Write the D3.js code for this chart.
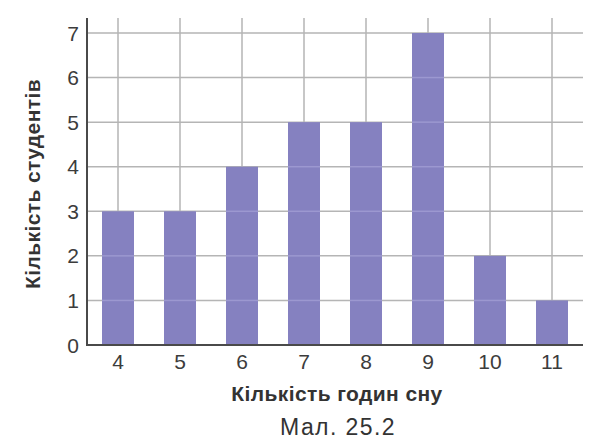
<!DOCTYPE html>
<html>
<head>
<meta charset="utf-8">
<script src="https://cdn.jsdelivr.net/npm/d3@7"></script>
<style>
  body { margin: 0; background: #fff; }
  text { font-family: 'Liberation Sans', Arial, sans-serif; fill: #333; }
</style>
</head>
<body>
<div id="chart"></div>
<script>
// години сну та кількість студентів
var hours = ['4', '5', '6', '7', '8', '9', '10', '11']
var students = [3, 3, 4, 5, 5, 7, 2, 1]
var yTicks = [0, 1, 2, 3, 4, 5, 6, 7]

var W = 610, H = 446
var padL = 87, padR = 583, padT = 18, padB = 345

var svg = d3.select('#chart').append('svg')
  .attr('width', W)
  .attr('height', H)

var x = d3.scaleBand()
  .domain(hours)
  .range([padL, padR])
  .paddingInner(0.484)
  .paddingOuter(0.242)

var y = d3.scaleLinear()
  .domain([0, 7])
  .range([padB, 33])

// сітка
var grid = svg.append('g').attr('class', 'grid')
grid.selectAll('line.h')
  .data(yTicks.filter(d => d > 0))
  .enter().append('line')
  .attr('class', 'h')
  .attr('x1', padL).attr('x2', padR)
  .attr('y1', d => y(d)).attr('y2', d => y(d))
  .attr('stroke', '#b5b5b5').attr('stroke-width', 1.5)
grid.selectAll('line.v')
  .data(hours)
  .enter().append('line')
  .attr('class', 'v')
  .attr('x1', d => x(d) + x.bandwidth() / 2).attr('x2', d => x(d) + x.bandwidth() / 2)
  .attr('y1', padT).attr('y2', padB)
  .attr('stroke', '#b5b5b5').attr('stroke-width', 1.5)

// стовпці
var bars = svg.append('g').selectAll('g')
  .data(hours.map((h, i) => ({ h: h, v: students[i] })))
  .enter().append('g')
bars.append('rect')
  .attr('x', d => x(d.h))
  .attr('y', d => y(d.v))
  .attr('width', x.bandwidth())
  .attr('height', d => y(0) - y(d.v))
  .attr('fill', '#8581c0')
// лінії сітки крізь стовпці
bars.selectAll('line')
  .data(d => d3.range(1, d.v).map(k => ({ h: d.h, k: k })))
  .enter().append('line')
  .attr('x1', d => x(d.h)).attr('x2', d => x(d.h) + x.bandwidth())
  .attr('y1', d => y(d.k)).attr('y2', d => y(d.k))
  .attr('stroke', '#9c98d0').attr('stroke-width', 1.5)

// осі
svg.append('line')
  .attr('x1', padL).attr('x2', padL)
  .attr('y1', padT).attr('y2', padB + 1)
  .attr('stroke', '#4a4a4a').attr('stroke-width', 2)
svg.append('line')
  .attr('x1', padL - 1).attr('x2', padR)
  .attr('y1', padB).attr('y2', padB)
  .attr('stroke', '#4a4a4a').attr('stroke-width', 2)

svg.append('g').selectAll('text')
  .data(yTicks)
  .enter().append('text')
  .attr('x', padL - 8)
  .attr('y', d => y(d) + 7.5)
  .attr('text-anchor', 'end')
  .style('font-size', '21px')
  .style('fill', '#3c3c3c')
  .text(d => d)

svg.append('g').selectAll('text')
  .data(hours)
  .enter().append('text')
  .attr('x', d => x(d) + x.bandwidth() / 2)
  .attr('y', 369)
  .attr('text-anchor', 'middle')
  .style('font-size', '21px')
  .style('fill', '#3c3c3c')
  .text(d => d)

// підписи
svg.append('text')
  .attr('x', 337).attr('y', 401)
  .attr('text-anchor', 'middle')
  .style('font-size', '21px').style('font-weight', 'bold')
  .style('letter-spacing', '0.4px')
  .text('Кількість годин сну')

svg.append('text')
  .attr('transform', 'translate(40,184) rotate(-90)')
  .attr('text-anchor', 'middle')
  .style('font-size', '21px').style('font-weight', 'bold')
  .style('letter-spacing', '0.4px')
  .text('Кількість студентів')

svg.append('text')
  .attr('x', 338).attr('y', 435)
  .attr('text-anchor', 'middle')
  .style('font-size', '23px')
  .style('letter-spacing', '1.4px')
  .text('Мал. 25.2')
</script>
</body>
</html>
